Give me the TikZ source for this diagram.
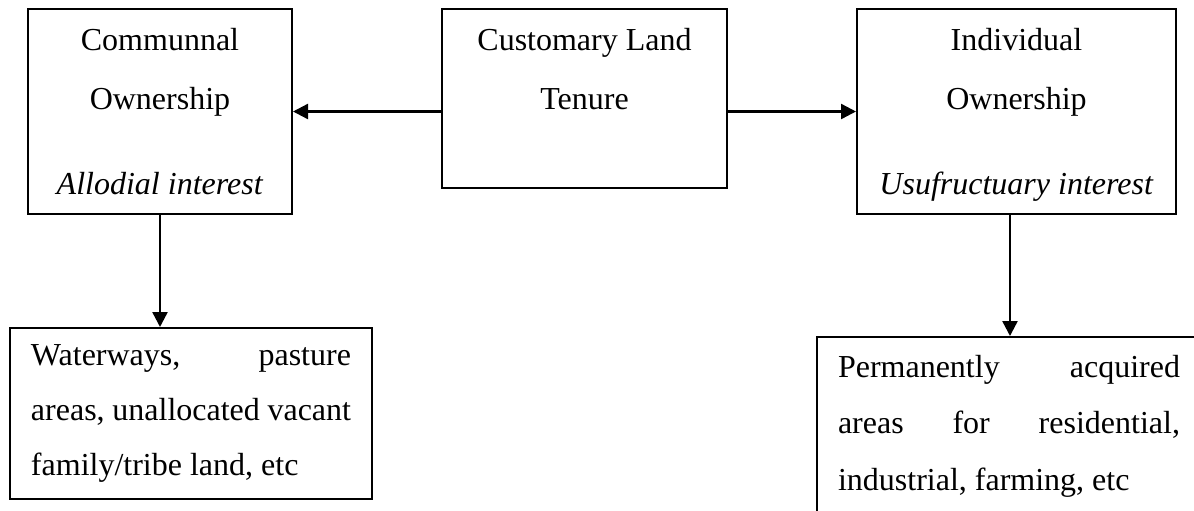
\documentclass[tikz,border=0pt]{standalone}
\usepackage{fontspec}
\setmainfont{Liberation Serif}
\usetikzlibrary{positioning,arrows.meta}
\newcommand{\headfont}{\fontsize{16pt}{29.5pt}\selectfont}
\newcommand{\bodyfont}{\fontsize{16pt}{27.5pt}\selectfont}
\tikzset{
  box/.style={
    draw, line width=1pt, align=center, font=\headfont
  },
  listbox/.style={
    draw, line width=1pt, align=justify, inner xsep=10.5pt, font=\bodyfont
  },
  arr/.style={
    line width=1.2pt, -{Triangle[length=7.5pt,width=7.5pt]}
  }
}

\begin{document}
\begin{tikzpicture}
          \useasboundingbox (0,0) rectangle (597pt,-255pt);
          \node[box, minimum width=142.5pt, minimum height=89.5pt] (Tenure) at (292.25pt,-49.25pt) {Customary Land\\Tenure\\\phantom{Tenure}};
          \node[on grid, box, minimum width=132pt, minimum height=102.5pt, below left=6.5pt and 212.25pt of Tenure] (Communal) {Communnal\\Ownership\\[13pt]\textit{Allodial interest}};
          \node[on grid, box, minimum width=159.5pt, minimum height=102.5pt, below right=6.5pt and 216pt of Tenure] (Individual) {Individual\\Ownership\\[13pt]\raisebox{0pt}[\height][0pt]{\textit{Usufructuary interest}}};
          \node[on grid, listbox, text width=160pt, minimum height=85.5pt, below right=151pt and 15.5pt of Communal] (Waterways) {Waterways, pasture\linebreak areas, unallocated vacant\linebreak family/tribe land, etc};
          \node[on grid, listbox, text width=171pt, minimum height=89pt, below left=157.25pt and 3.75pt of Individual, font={\fontsize{16pt}{28.25pt}\selectfont}] (Permanent) {Permanently acquired\linebreak areas for residential,\linebreak industrial, farming, etc};
          \draw[arr] (Tenure.west |- Communal.east) to (Communal.east);
          \draw[arr] (Tenure.east |- Individual.west) to (Individual.west);
          \draw[arr] (Communal.south) to (Communal.south |- Waterways.north);
          \draw[arr] ([xshift=-3.25pt]Individual.south) to ([xshift=-3.25pt]Individual.south |- Permanent.north);
        \end{tikzpicture}
\end{document}
